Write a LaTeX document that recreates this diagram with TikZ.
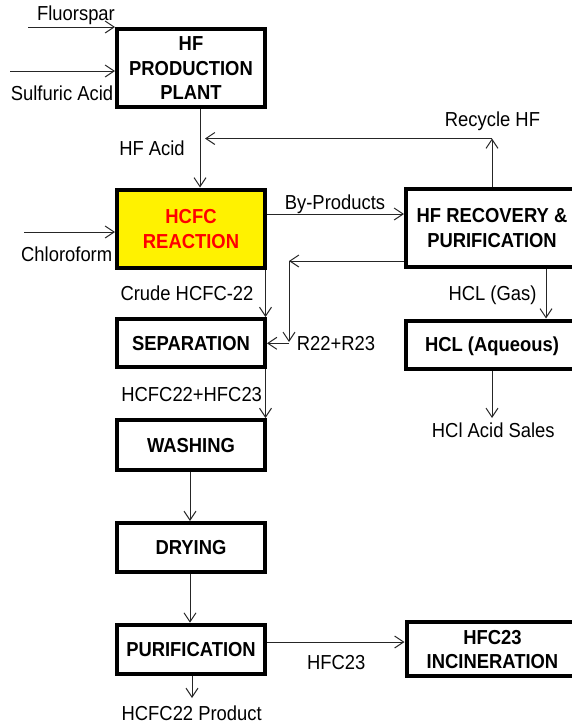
\documentclass[tikz,border=0pt]{standalone}
\usepackage{fontspec}
\setmainfont{Liberation Sans}
\usepackage{graphicx}
\usetikzlibrary{arrows.meta}
\newcommand\bx[1]{\raisebox{0pt}[\dimexpr\height+4.6pt\relax][\depth]{\scalebox{1}[1.1]{\begin{tabular}{@{}c@{}}#1\end{tabular}}}}
\newcommand\lt[1]{\scalebox{1}[1.1]{#1}}
\tikzset{
  box/.style={draw, line width=4pt, inner sep=0pt, minimum width=148pt, font=\fontsize{18.4}{22.4}\selectfont\bfseries},
  conn/.style={line width=1pt, draw=black!85, -{Straight Barb[length=9pt,width=12pt]}},
  lbl/.style={inner sep=0pt, anchor=base, font=\fontsize{18.4}{22.4}\selectfont},
}
\begin{document}
\begin{tikzpicture}[x=1pt,y=-1pt]
\useasboundingbox (0,0) rectangle (572,723);
\clip (0,0) rectangle (572,723);
% boxes
\node[box, minimum height=78.3pt] (hf) at (191,67.85) {\bx{HF\\PRODUCTION\\PLANT}};
\node[box, minimum height=78.5pt, fill=yellow, text=red] (reac) at (191,228.75) {\bx{HCFC\\REACTION}};
\node[box, minimum height=48pt] (sep) at (191,343) {\bx{SEPARATION}};
\node[box, minimum height=50pt] (wash) at (191,445) {\bx{WASHING}};
\node[box, minimum height=49pt] (dry) at (191,547.5) {\bx{DRYING}};
\node[box, minimum height=49.3pt] (pur) at (191,649.35) {\bx{PURIFICATION}};
\node[box, minimum width=172pt, minimum height=78pt] (rec) at (492,228) {\bx{HF RECOVERY \&\\PURIFICATION}};
\node[box, minimum width=172pt, minimum height=48.5pt] (aq) at (492,344.75) {\bx{HCL (Aqueous)}};
\node[box, minimum width=172pt, minimum height=49.5pt] (inc) at (492.5,649.25) {\bx{HFC23\\INCINERATION}};
% coordinates
\coordinate (fs) at (28,27);
\coordinate (sa) at (10,71);
\coordinate (cl) at (24,232);
\coordinate (hfx) at (200,0);
\coordinate (rc) at (492,138.5);
\coordinate (rcend) at (205,138.5);
\coordinate (bp) at (0,214);
\coordinate (rt) at (289,261);
\coordinate (rb) at (289,342);
\coordinate (rs) at (289,343.3);
\coordinate (cx) at (265.5,0);
\coordinate (mx) at (190,0);
\coordinate (px) at (192,0);
\coordinate (pe) at (192,698);
\coordinate (hy) at (0,642);
\coordinate (gx) at (546,0);
\coordinate (se) at (492,418);
% connectors
\draw[conn] (fs) -- (fs -| hf.west);
\draw[conn] (sa) -- (sa -| hf.west);
\draw[conn] (cl) -- (cl -| reac.west);
\draw[conn] (hfx |- hf.south) -- (hfx |- reac.north);
\draw[conn] (rec.north) -- (rc);
\draw[conn] (rc) -- (rcend);
\draw[conn] (bp -| reac.east) -- (bp -| rec.west);
\draw[conn] (rt -| rec.west) -- (rt);
\draw[conn] (rt) -- (rb);
\draw[conn] (rs) -- (rs -| sep.east);
\draw[conn] (cx |- reac.south) -- (cx |- sep.north);
\draw[conn] (cx |- sep.south) -- (cx |- wash.north);
\draw[conn] (mx |- wash.south) -- (mx |- dry.north);
\draw[conn] (mx |- dry.south) -- (mx |- pur.north);
\draw[conn] (px |- pur.south) -- (pe);
\draw[conn] (hy -| pur.east) -- (hy -| inc.west);
\draw[conn] (gx |- rec.south) -- (gx |- aq.north);
\draw[conn] (aq.south) -- (se);
% labels
\node[lbl] (lfs) at (76,20.7) {\lt{Fluorspar}};
\node[lbl] (lsa) at (62,100.5) {\lt{Sulfuric Acid}};
\node[lbl] (lhf) at (152,155) {\lt{HF Acid}};
\node[lbl] (lcl) at (66.7,261.7) {\lt{Chloroform}};
\node[lbl] (lcr) at (187,300) {\lt{Crude HCFC-22}};
\node[lbl] (lbp) at (335,209) {\lt{By-Products}};
\node[lbl] (lrc) at (492.5,126.7) {\lt{Recycle HF}};
\node[lbl] (lgas) at (492.5,300) {\lt{HCL (Gas)}};
\node[lbl] (lr2) at (336,350.7) {\lt{R22+R23}};
\node[lbl] (lmix) at (191.7,401.7) {\lt{HCFC22+HFC23}};
\node[lbl] (lprod) at (191.7,720) {\lt{HCFC22 Product}};
\node[lbl] (lh23) at (336.3,669) {\lt{HFC23}};
\node[lbl] (lsal) at (493.3,437.3) {\lt{HCl Acid Sales}};
\end{tikzpicture}
\end{document}
